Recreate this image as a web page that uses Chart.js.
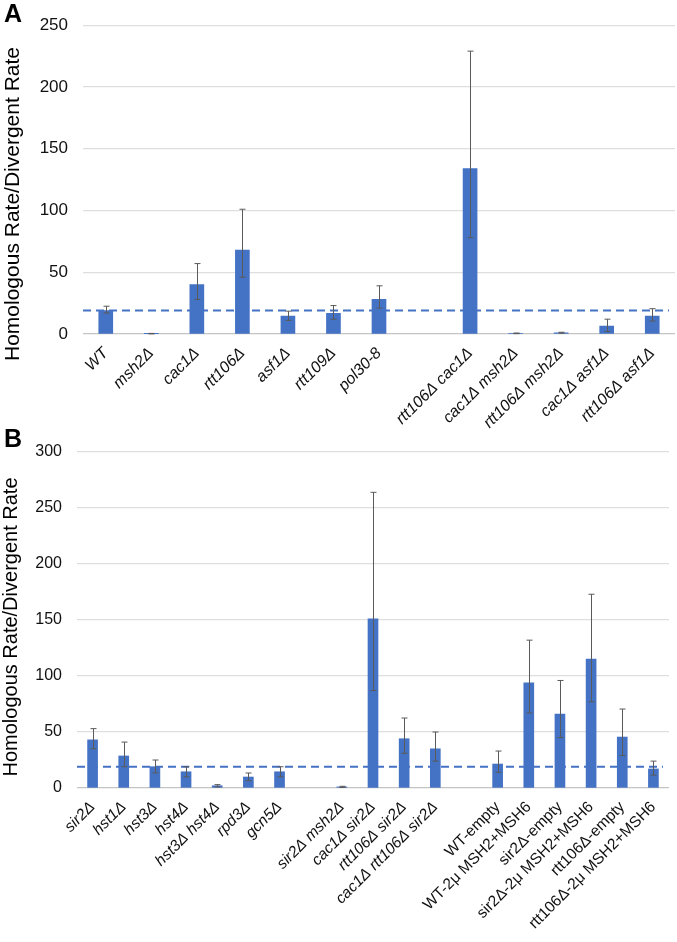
<!DOCTYPE html>
<html>
<head>
   <title>Homologous Rate/Divergent Rate</title>
   <meta charset="UTF-8">
   <script src="https://cdn.jsdelivr.net/npm/chart.js"></script>
   <style>
       body {
           margin: 0;
           background: white;
           font-family: "Liberation Sans", Arial, sans-serif;
       }
       .panel {
           position: absolute;
           left: 0;
           width: 677px;
       }
       #panelA { top: 0; height: 440px; }
       #panelB { top: 420px; height: 522px; }
   </style>
</head>
<body>
   <div class="panel" id="panelA"><canvas id="grafikA"></canvas></div>
   <div class="panel" id="panelB"><canvas id="grafikB"></canvas></div>

   <script>
       // Panel A
       const etiketA = ['WT', 'msh2Δ', 'cac1Δ', 'rtt106Δ', 'asf1Δ', 'rtt109Δ', 'pol30-8', '',
                        'rtt106Δ cac1Δ', 'cac1Δ msh2Δ', 'rtt106Δ msh2Δ', 'cac1Δ asf1Δ', 'rtt106Δ asf1Δ'];
       const degerA = [19, 0.3, 40, 68, 14.5, 16.8, 28, null, 134, 0.5, 1, 6.4, 14.5];
       const ustA   = [22.5, 0.5, 57, 101, 18.5, 23, 39, null, 229, 0.8, 1.4, 12, 20.5];
       const altA   = [17, 0.1, 28, 46, 11, 12, 21, null, 78, 0.3, 0.7, 2, 10.5];
       const ticksA = [0, 50, 100, 150, 200, 250];

       // Panel B
       const etiketB = ['sir2Δ', 'hst1Δ', 'hst3Δ', 'hst4Δ', 'hst3Δ hst4Δ', 'rpd3Δ', 'gcn5Δ', '',
                        'sir2Δ msh2Δ', 'cac1Δ sir2Δ', 'rtt106Δ sir2Δ', 'cac1Δ rtt106Δ sir2Δ', '',
                        'WT-empty', 'WT-2μ MSH2+MSH6', 'sir2Δ-empty', 'sir2Δ-2μ MSH2+MSH6',
                        'rtt106Δ-empty', 'rtt106Δ-2μ MSH2+MSH6'];
       const degerB = [43, 28.6, 19, 14.5, 2, 9.8, 14.5, null, 1, 151, 44, 35, null, 21.4, 94, 66, 115, 45.5, 17];
       const ustB   = [53, 41, 25, 19, 3, 13.4, 19, null, 1.5, 264, 62.5, 50, null, 33, 132, 96, 173, 70.5, 24];
       const altB   = [35, 19, 13.5, 10, 1, 6.5, 10, null, 0.5, 87, 31, 24, null, 14, 67, 45, 77, 29, 11.5];
       const ticksB = [0, 50, 100, 150, 200, 250, 300];

       // WT reference level (dashed line)
       const referans = 19;

       const mavi = '#4472C4';
       const yaziTipi = '"Liberation Sans", Arial, sans-serif';

       // error bars, dashed line, panel letter and y title
       const ekler = {
           id: 'ekler',
           afterDatasetsDraw(chart, args, opts) {
               const ctx = chart.ctx;
               const x = chart.scales.x, y = chart.scales.y;
               const area = chart.chartArea;
               ctx.save();

               // dashed reference line
               ctx.strokeStyle = mavi;
               ctx.lineWidth = 2;
               ctx.setLineDash([8, 5]);
               ctx.beginPath();
               ctx.moveTo(area.left, y.getPixelForValue(referans));
               ctx.lineTo(area.right - 6, y.getPixelForValue(referans));
               ctx.stroke();
               ctx.setLineDash([]);

               // error bars
               ctx.strokeStyle = '#5a5a5a';
               ctx.lineWidth = 1;
               opts.ust.forEach((u, i) => {
                   if (u === null) return;
                   const px = Math.round(x.getPixelForValue(i)) + 0.5;
                   const y1 = y.getPixelForValue(u);
                   const y2 = y.getPixelForValue(opts.alt[i]);
                   ctx.beginPath();
                   ctx.moveTo(px, y1); ctx.lineTo(px, y2);
                   ctx.moveTo(px - 3, y1); ctx.lineTo(px + 3, y1);
                   ctx.moveTo(px - 3, y2); ctx.lineTo(px + 3, y2);
                   ctx.stroke();
               });

               // panel letter
               ctx.fillStyle = '#000';
               ctx.font = 'bold 25px ' + yaziTipi;
               ctx.textBaseline = 'alphabetic';
               ctx.fillText(opts.harf, opts.harfX, opts.harfY);

               // y axis title
               ctx.translate(opts.baslikX, opts.baslikY);
               ctx.rotate(-Math.PI / 2);
               ctx.textAlign = 'center';
               ctx.textBaseline = 'middle';
               ctx.font = opts.baslikBoyut + 'px ' + yaziTipi;
               ctx.fillText('Homologous Rate/Divergent Rate', 0, 0);
               ctx.restore();
           }
       };

       function grafikKur(id, etiket, deger, ust, alt, tikler, s) {
           const ctx = document.getElementById(id).getContext('2d');
           return new Chart(ctx, {
               type: 'bar',
               data: {
                   labels: etiket,
                   datasets: [{
                       data: deger,
                       backgroundColor: mavi,
                       barThickness: s.kalinlik
                   }]
               },
               options: {
                   responsive: true,
                   maintainAspectRatio: false,
                   animation: false,
                   layout: {
                       padding: { top: s.ust, right: s.sag, left: 0, bottom: 0 }
                   },
                   plugins: {
                       legend: { display: false },
                       tooltip: { enabled: false },
                       ekler: {
                           ust: ust, alt: alt, harf: s.harf, harfX: 4, harfY: s.harfY,
                           baslikX: s.baslikX, baslikY: s.baslikY, baslikBoyut: s.baslikBoyut
                       }
                   },
                   scales: {
                       x: {
                           grid: { display: false },
                           border: { display: false },
                           afterFit: (sc) => { sc.height = s.xYukseklik; },
                           ticks: {
                               autoSkip: false,
                               minRotation: 45,
                               maxRotation: 45,
                               padding: 2,
                               color: '#111',
                               font: (c) => ({
                                   family: yaziTipi,
                                   size: s.xBoyut,
                                   style: (s.duzBaslangic !== undefined && c.index >= s.duzBaslangic) ? 'normal' : 'italic'
                               })
                           }
                       },
                       y: {
                           min: 0,
                           max: tikler[tikler.length - 1],
                           afterBuildTicks: (sc) => { sc.ticks = tikler.map(v => ({ value: v })); },
                           afterFit: (sc) => { sc.width = s.yGenislik; },
                           border: { display: false },
                           grid: {
                               drawTicks: false,
                               color: (c) => c.tick && c.tick.value === 0 ? '#c4c4c4' : '#dedede',
                               lineWidth: 1.3
                           },
                           ticks: {
                               padding: s.tikBosluk,
                               color: '#111',
                               font: { family: yaziTipi, size: s.tikBoyut }
                           }
                       }
                   }
               },
               plugins: [ekler]
           });
       }

       grafikKur('grafikA', etiketA, degerA, ustA, altA, ticksA, {
           kalinlik: 14, ust: 23, sag: 2, xYukseklik: 106, yGenislik: 83, xBoyut: 16,
           tikBosluk: 15, tikBoyut: 17, harf: 'A', harfY: 22,
           baslikX: 13, baslikY: 204, baslikBoyut: 21
       });

       grafikKur('grafikB', etiketB, degerB, ustB, altB, ticksB, {
           kalinlik: 10, ust: 32, sag: 8, xYukseklik: 154, yGenislik: 77, xBoyut: 15.5,
           tikBosluk: 15, tikBoyut: 16, harf: 'B', harfY: 27,
           baslikX: 11, baslikY: 207, baslikBoyut: 20, duzBaslangic: 13
       });
   </script>
</body>
</html>
